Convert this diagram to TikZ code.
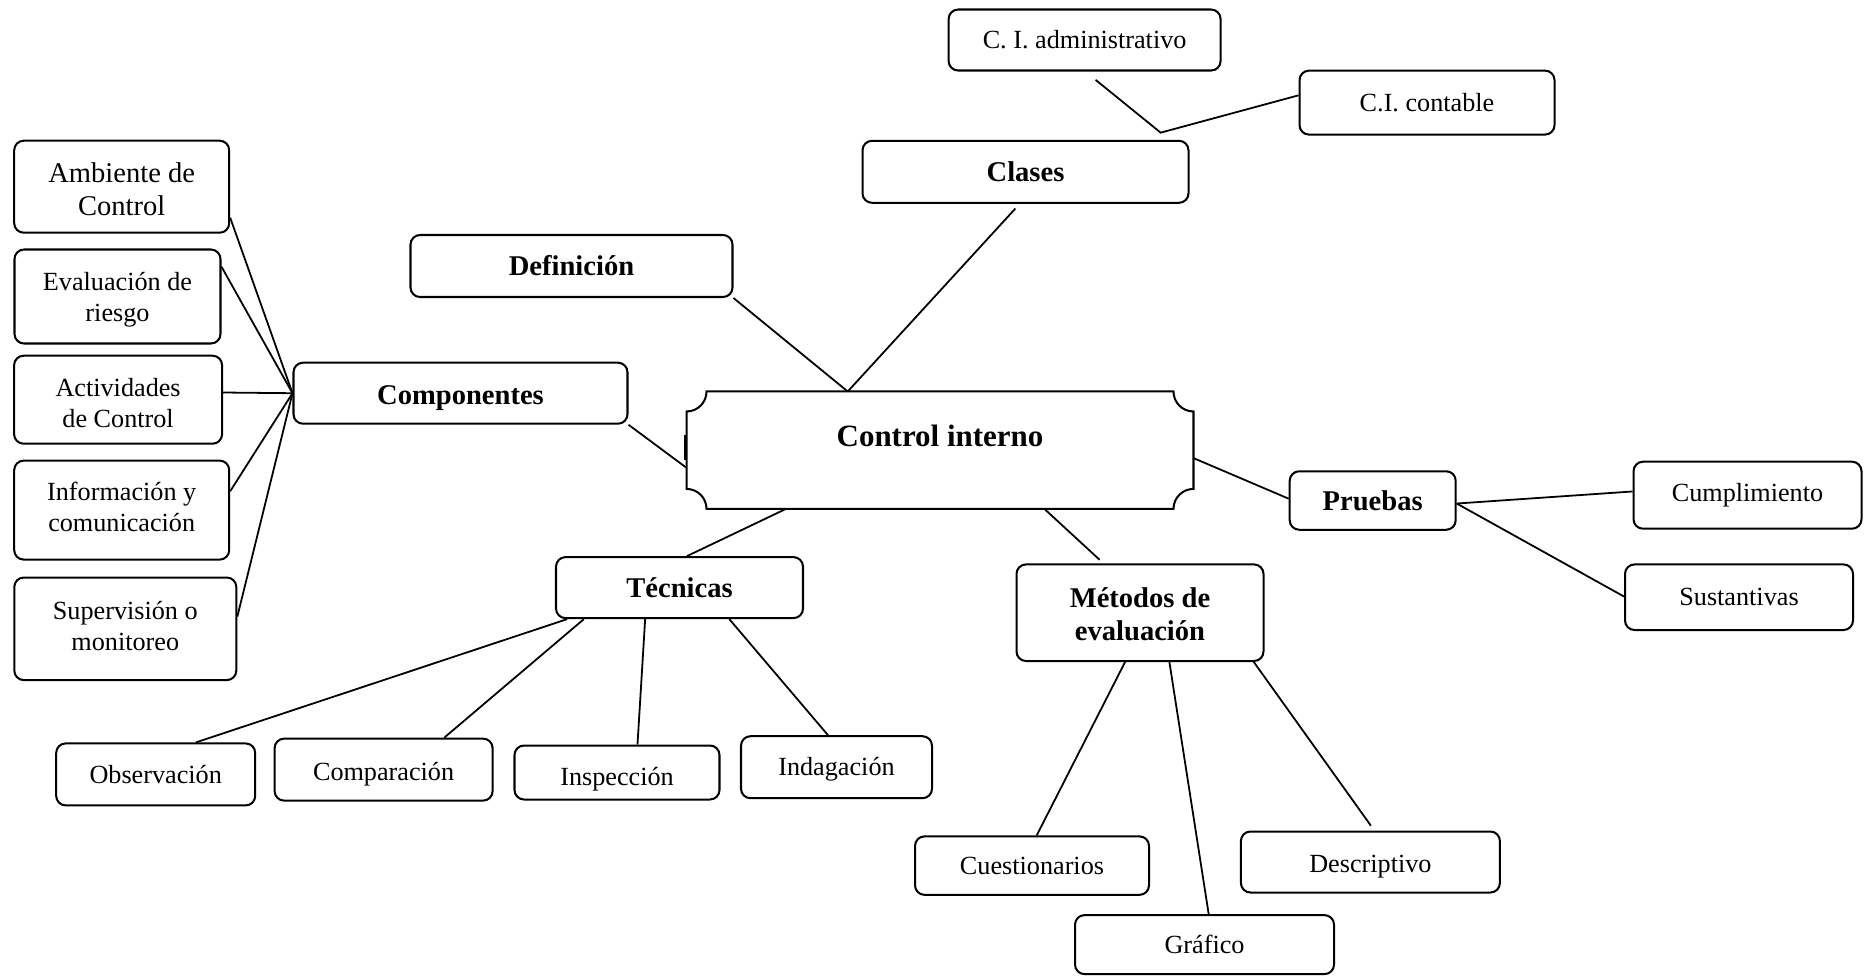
\documentclass[tikz,border=0pt]{standalone}
\usepackage{fontspec}
\setmainfont{Liberation Serif}
\usetikzlibrary{calc}
% text block lowered or raised without changing its box
\newcommand\boxtext[2][0pt]{\raisebox{#1}[\height][\depth]{\begin{tabular}{@{}c@{}}#2\end{tabular}}}
\tikzset{
  box/.style={draw, rounded corners=4pt, line width=0.85pt, inner sep=0pt,
    align=center, font=\fontsize{11}{13}\selectfont},
  head/.style={box, font=\fontsize{12}{14}\selectfont\bfseries},
  sz/.style 2 args={minimum width={#1*0.42pt}, minimum height={#2*0.42pt}},
  link/.style={line width=0.75pt},
}
\begin{document}
\begin{tikzpicture}[x=0.42pt, y=-0.42pt]
\useasboundingbox (0,0) rectangle (1871,976);

% central concept
\node[inner sep=0pt, sz={506}{116.5}, font=\fontsize{13}{15}\selectfont\bfseries]
  (ctrl) at (940,450.2) {\boxtext[4.5pt]{Control interno}};
\draw[line width=0.85pt]
  ($(ctrl.north west)+(8.4pt,0pt)$) -- ($(ctrl.north east)+(-8.4pt,0pt)$)
  arc[start angle=180, end angle=270, radius=8.4pt]
  -- ($(ctrl.south east)+(0pt,8.4pt)$)
  arc[start angle=90, end angle=180, radius=8.4pt]
  -- ($(ctrl.south west)+(8.4pt,0pt)$)
  arc[start angle=0, end angle=90, radius=8.4pt]
  -- ($(ctrl.north west)+(0pt,-8.4pt)$)
  arc[start angle=270, end angle=360, radius=8.4pt]
  -- cycle;

% first level
\node[head, sz={326}{62}] (clases) at (1025.5,171.8) {Clases};
\node[head, sz={322}{62}] (def) at (571.5,266) {Definición};
\node[head, sz={334}{61}] (comp) at (460.5,393.2) {\boxtext[-2pt]{Componentes}};
\node[head, sz={166}{58.5}] (pru) at (1372.7,500.5) {Pruebas};
\node[head, sz={247}{61}] (tec) at (679.5,587.6) {Técnicas};
\node[head, sz={247}{96.6}] (met) at (1140,612.7) {\boxtext[-2pt]{Métodos de\\evaluación}};

% classes
\node[box, sz={272}{61}] (adm) at (1084.6,40) {C. I. administrativo};
\node[box, sz={255}{64}] (cont) at (1427,102.6) {C.I. contable};

% components
\node[box, sz={215}{92}, font=\fontsize{12}{14}\selectfont] (amb) at (121.7,186.7) {\boxtext[-2.5pt]{Ambiente de\\Control}};
\node[box, sz={206}{94}] (eva) at (117.5,296.5) {\boxtext[-1.5pt]{Evaluación de\\riesgo}};
\node[box, sz={208}{88}] (act) at (118.1,399.7) {\boxtext[-2.5pt]{Actividades\\de Control}};
\node[box, sz={215}{99}] (inf) at (121.7,510.1) {\boxtext{Información y\\comunicación}};
\node[box, sz={222}{102.6}] (sup) at (125.3,628.8) {\boxtext{Supervisión o\\monitoreo}};

% tests
\node[box, sz={228}{67}] (cum) at (1747.5,495.2) {Cumplimiento};
\node[box, sz={228}{65.6}] (sus) at (1739,597.2) {Sustantivas};

% techniques
\node[box, sz={199}{62}] (obs) at (155.7,774.4) {Observación};
\node[box, sz={218}{62}] (cmp) at (383.6,769.6) {\boxtext[-2pt]{Comparación}};
\node[box, sz={205}{54}] (ins) at (617,772.5) {\boxtext[-3pt]{Inspección}};
\node[box, sz={191}{62}] (ind) at (836.5,767.2) {\boxtext[-1pt]{Indagación}};

% evaluation methods
\node[box, sz={234}{58.5}] (cue) at (1032,865.6) {\boxtext[-1pt]{Cuestionarios}};
\node[box, sz={259}{59}] (gra) at (1204.5,944.6) {\boxtext[-1pt]{Gráfico}};
\node[box, sz={259}{61}] (des) at (1370.4,862) {\boxtext[-2pt]{Descriptivo}};

% connectors to the centre
\coordinate (ctop) at ($(ctrl.north west)!0.318!(ctrl.north east)$);
\draw[link] (def.south east) -- (ctop);
\draw[link] ($(clases.south west)!0.469!(clases.south east)+(0pt,-2pt)$) -- (ctop);
\draw[link] (comp.south east) -- ($(ctrl.north west)!0.65!(ctrl.south west)$);
\draw[line width=0.85pt] ($(ctrl.west)+(-0.7pt,6.4pt)$) -- ($(ctrl.west)+(-0.7pt,-4.1pt)$);
\draw[link] ($(ctrl.north east)!0.567!(ctrl.south east)$) -- ($(pru.north west)!0.47!(pru.south west)$);
\draw[link] ($(ctrl.south west)!0.196!(ctrl.south east)$) -- ($(tec.north west)!0.53!(tec.north east)$);
\draw[link] ($(ctrl.south west)!0.706!(ctrl.south east)$) -- ($(met.north west)!0.338!(met.north east)+(0pt,1.5pt)$);

% classes branch
\coordinate (cj) at ($(clases.north west)!0.912!(clases.north east)+(0pt,3pt)$);
\draw[link] ($(adm.south west)!0.54!(adm.south east)+(0pt,-3.5pt)$) -- (cj)
  -- ($(cont.north west)!0.39!(cont.south west)$);

% components branch
\draw[link] ($(amb.north east)!0.83!(amb.south east)$) -- (comp.west);
\draw[link] ($(eva.north east)!0.19!(eva.south east)$) -- (comp.west);
\draw[link] ($(act.north east)!0.42!(act.south east)$) -- (comp.west);
\draw[link] ($(inf.north east)!0.313!(inf.south east)$) -- (comp.west);
\draw[link] ($(sup.north east)!0.384!(sup.south east)$) -- (comp.west);

% tests branch
\coordinate (pr) at ($(pru.north east)!0.55!(pru.south east)$);
\draw[link] (pr) -- ($(cum.north west)!0.446!(cum.south west)$);
\draw[link] (pr) -- ($(sus.north west)!0.49!(sus.south west)$);

% techniques branch
\draw[link] ($(tec.south west)!0.049!(tec.south east)$) -- ($(obs.north west)!0.70!(obs.north east)$);
\draw[link] ($(tec.south west)!0.116!(tec.south east)$) -- ($(cmp.north west)!0.776!(cmp.north east)$);
\draw[link] ($(tec.south west)!0.362!(tec.south east)$) -- ($(ins.north west)!0.599!(ins.north east)$);
\draw[link] ($(tec.south west)!0.70!(tec.south east)$) -- ($(ind.north west)!0.456!(ind.north east)$);

% evaluation methods branch
\draw[link] ($(met.south west)!0.44!(met.south east)$) -- ($(cue.north west)!0.52!(cue.north east)$);
\draw[link] ($(met.south west)!0.618!(met.south east)$) -- ($(gra.north west)!0.516!(gra.north east)$);
\draw[link] ($(met.south west)!0.957!(met.south east)$) -- ($(des.north west)!0.502!(des.north east)+(0pt,2pt)$);
\end{tikzpicture}
\end{document}
